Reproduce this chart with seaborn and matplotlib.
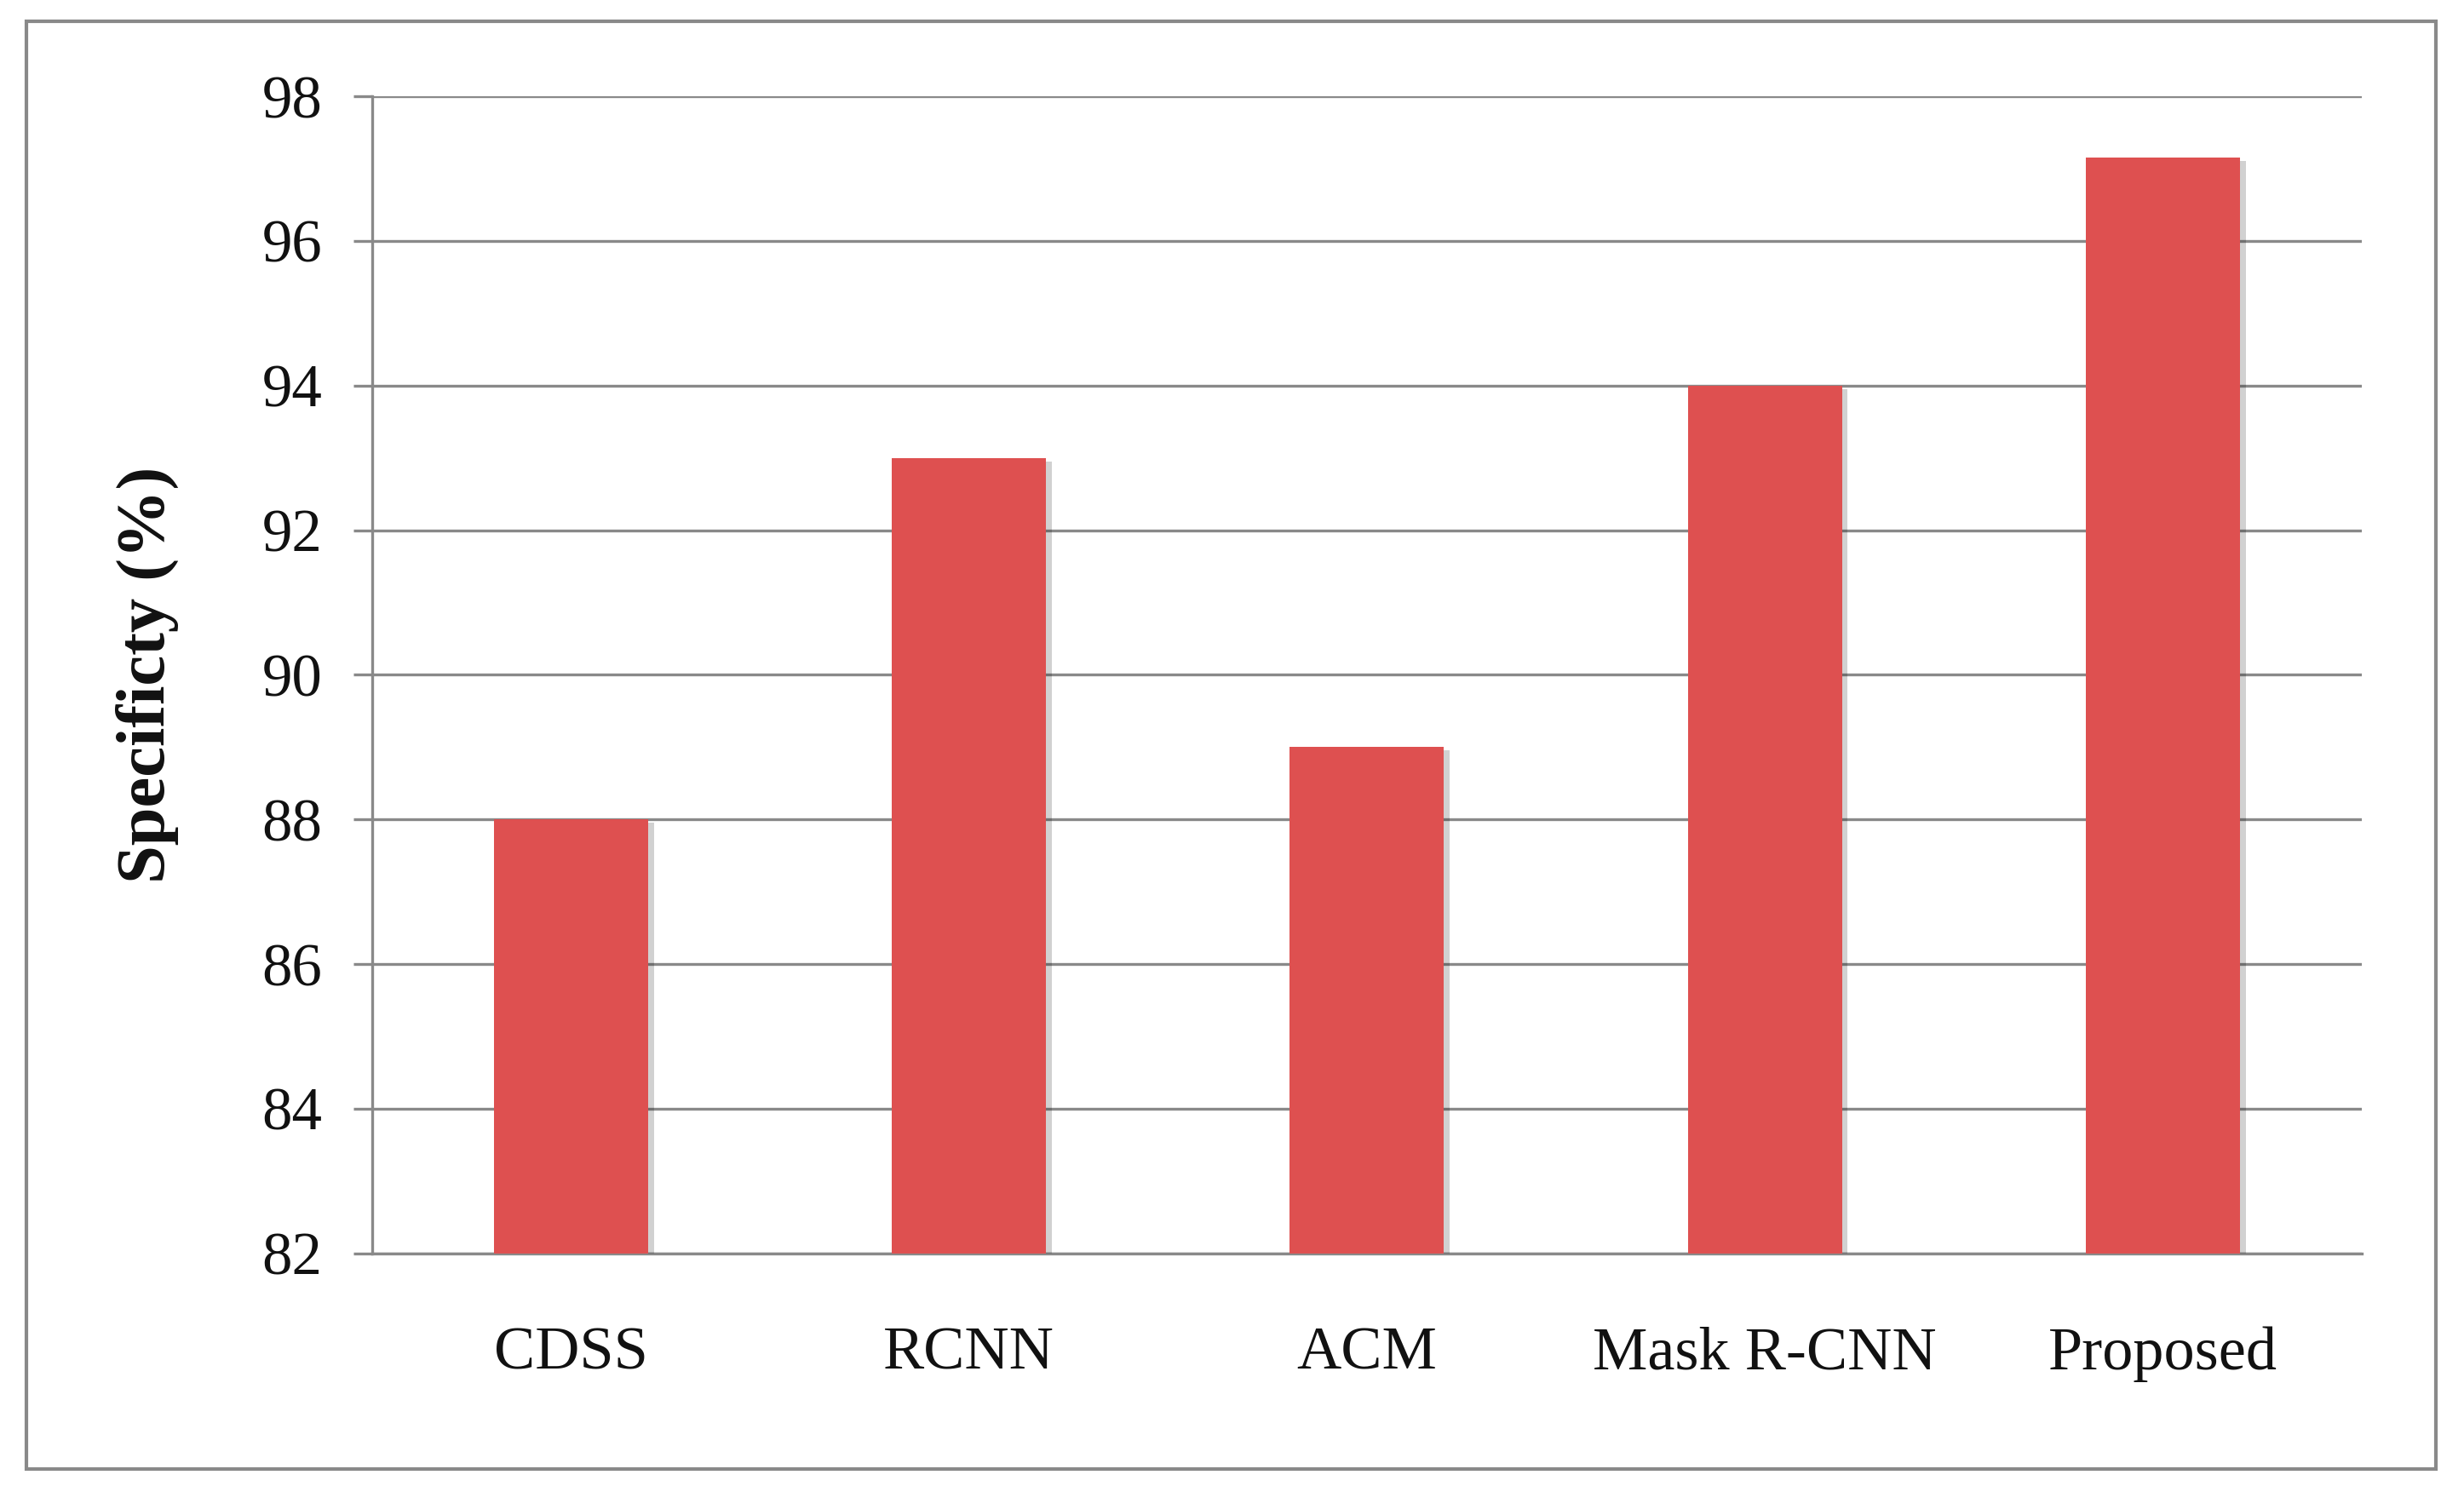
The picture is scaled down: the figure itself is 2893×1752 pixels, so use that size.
import matplotlib
matplotlib.use("Agg")
import matplotlib.pyplot as plt
import seaborn as sns
import pandas as pd
from matplotlib.patches import Rectangle
from matplotlib import patheffects as pe

categories = ["CDSS", "RCNN", "ACM", "Mask R-CNN", "Proposed"]
specificity = [88.0, 93.0, 89.0, 94.0, 97.15]
yticks = [82, 84, 86, 88, 90, 92, 94, 96, 98]

df = pd.DataFrame({"Method": categories, "Specificity": specificity})

sns.set_theme(style="white")
plt.rcParams["font.family"] = ["Liberation Serif", "DejaVu Serif"]

fig = plt.figure(figsize=(28.93, 17.52), dpi=100)
ax = fig.add_axes([0.151, 0.160, 0.8075, 0.7755])

grid_c = "#898989"
sns.barplot(data=df, x="Method", y="Specificity", color="#DE5050", width=0.387,
            saturation=1, ax=ax, zorder=3)
for p in ax.patches:
    p.set_linewidth(0)
    p.set_path_effects([pe.SimplePatchShadow(offset=(5, -3), shadow_rgbFace="#000000", alpha=0.18),
                        pe.Normal()])

ax.set_ylim(82, 98)
ax.set_xlim(-0.5, 4.5)
ax.set_yticks(yticks)
ax.set_yticklabels([str(t) for t in yticks], fontsize=51, color="#111111")
ax.tick_params(axis="y", length=16, width=2.4, color=grid_c, pad=26, direction="out", left=True)
ax.tick_params(axis="x", length=0, labelsize=52, pad=62, labelcolor="#111111")
ax.yaxis.grid(True, color=grid_c, linewidth=2.4, zorder=0)
ax.set_axisbelow(True)
ax.set_xlabel("")
ax.set_ylabel("Specificty (%)", fontsize=58, fontweight="bold", color="#111111")
ax.yaxis.set_label_coords(-0.097, 0.5)
for s in ["top", "right"]:
    ax.spines[s].set_visible(False)
for s in ["left", "bottom"]:
    ax.spines[s].set_visible(True)
    ax.spines[s].set_color(grid_c)
    ax.spines[s].set_linewidth(2.4)

border = Rectangle((0.0107, 0.0155), 0.978, 0.970, transform=fig.transFigure,
                   fill=False, edgecolor=grid_c, linewidth=3.0)
fig.patches.append(border)

fig.savefig("out.png", dpi=100, facecolor="white")
